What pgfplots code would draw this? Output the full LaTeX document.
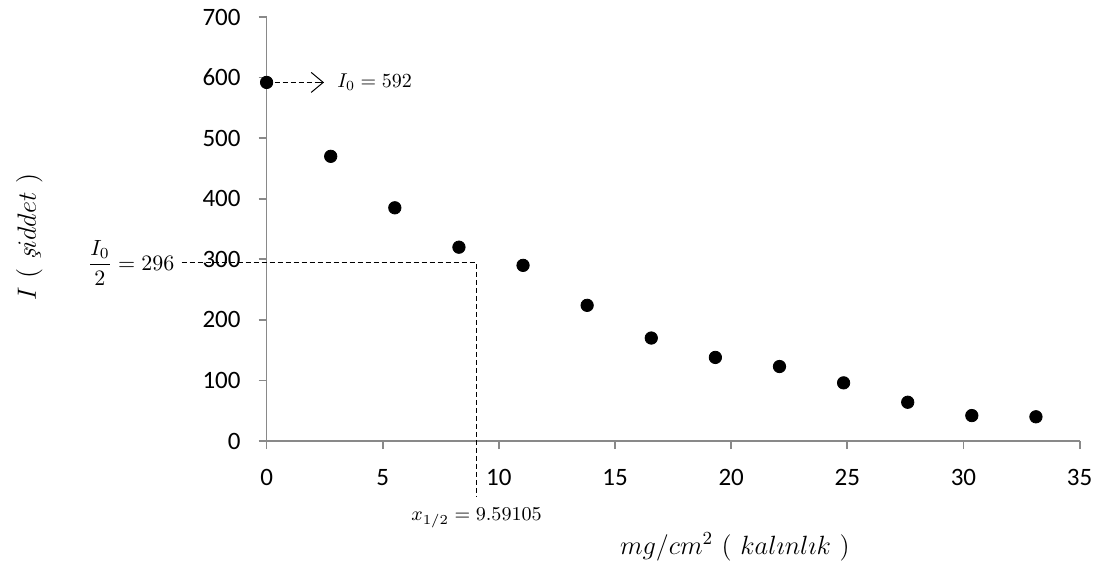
\RequirePackage{fix-cm}
\documentclass[border=0pt]{standalone}
\usepackage{pgfplots}
\pgfplotsset{compat=1.18}
\usepackage{fontspec}
\usetikzlibrary{arrows.meta}
\newfontfamily\calibri{Carlito}
\definecolor{axisgray}{RGB}{137,137,137}
\begin{document}
\begin{tikzpicture}
\begin{axis}[
  scale only axis, width=406.5pt, height=212pt,
  xmin=0, xmax=35, ymin=0, ymax=700,
  xtick={0,5,...,35}, ytick={0,100,...,700},
  axis lines*=left,
  axis line style={draw=axisgray, -, line width=0.9pt},
  tick style={draw=axisgray, line width=0.9pt},
  tick align=outside, major tick length=4pt,
  ticklabel style={font=\calibri\fontsize{12.5}{15}\selectfont, text=black},
  yticklabel style={xshift=-5.5pt},
  xticklabel style={yshift=-6.5pt},
  /pgf/number format/assume math mode=true,
  clip=false,
  xlabel={$mg/cm^2\ (\ kal\imath nl\imath k\ )$},
  ylabel={$I\ (\ \mbox{\itshape ş}iddet\ )$},
  label style={font=\fontsize{13.2}{16}\selectfont},
  xlabel style={at={(axis description cs:0.576,-0.25)}, anchor=center},
  ylabel style={at={(axis description cs:-0.292,0.481)}, anchor=center},
]
\addplot[only marks, mark=*, mark size=3.1pt, black] coordinates {
  (0,592) (2.76,470) (5.52,385) (8.28,320) (11.04,290) (13.8,224)
  (16.56,170) (19.32,138) (22.08,123) (24.84,96) (27.6,64) (30.36,42) (33.12,40)
};
\draw[black, line width=0.5pt, dash pattern=on 2.5pt off 1.5pt]
  (axis cs:0,592) -- (axis cs:2.47,592);
\draw[black, line width=0.5pt, -{Straight Barb[length=6pt,width=10pt]}]
  (axis cs:2.3,592) -- (axis cs:2.47,592);
\node[anchor=west, inner sep=0pt, font=\fontsize{10}{12}\selectfont] at (axis cs:3.03,592) {$I_0 = 592$};
\draw[black, line width=0.5pt, dash pattern=on 2.5pt off 1.5pt]
  (axis cs:-3.66,294) -- (axis cs:9.04,294) -- (axis cs:9.04,-92);
\node[anchor=east, inner sep=0pt, font=\fontsize{11}{13}\selectfont] at (axis cs:-3.95,294) {$\displaystyle\frac{I_0}{2} = 296$};
\node[anchor=center, inner sep=0pt, font=\fontsize{9.8}{12}\selectfont] at (axis cs:9.04,-127) {$x_{1/2} = 9.59105$};
\coordinate (O) at (rel axis cs:0,0);
\end{axis}
\pgfresetboundingbox
\path[use as bounding box] ([shift={(-133.3pt,-64.5pt)}]O) rectangle ++(556pt,285pt);
\end{tikzpicture}
\end{document}
